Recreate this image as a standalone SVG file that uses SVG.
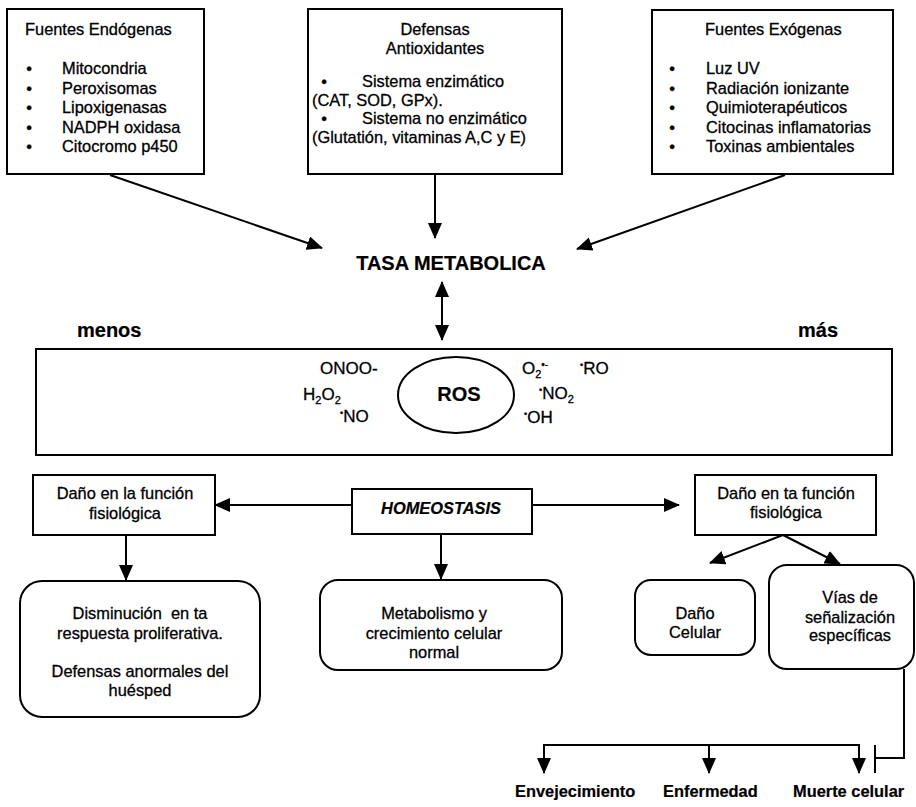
<svg xmlns="http://www.w3.org/2000/svg" width="916" height="807" viewBox="0 0 916 807">
<style>
  .box { fill: #fff; stroke: #000; stroke-width: 2; }
  .t { font-family: "Liberation Sans", Arial, sans-serif; font-size: 16.4px; fill: #000; stroke: #000; stroke-width: 0.3px; }
  .m { text-anchor: middle; }
  .b { font-weight: bold; stroke-width: 0.2px; }
  .big { font-size: 20px; }
  .chem { font-size: 17px; }
  .ln { stroke: #000; stroke-width: 2; fill: none; }
  .arr { marker-end: url(#ah); }
  .arr2 { marker-start: url(#ah); marker-end: url(#ah); }
</style>
<defs>
  <marker id="ah" markerUnits="userSpaceOnUse" markerWidth="16" markerHeight="14" refX="15" refY="7" orient="auto-start-reverse">
    <path d="M0,0 L16,7 L0,14 z" fill="#000"/>
  </marker>
</defs>
<rect width="916" height="807" fill="#fff"/>

<g id="endogenas">
  <rect class="box" x="7" y="9" width="197" height="165"/>
  <text class="t" x="25" y="35">Fuentes Endógenas</text>
  <text class="t m" x="29" y="74">•</text><text class="t" x="62" y="74">Mitocondria</text>
  <text class="t m" x="29" y="94">•</text><text class="t" x="62" y="94">Peroxisomas</text>
  <text class="t m" x="29" y="113">•</text><text class="t" x="62" y="113">Lipoxigenasas</text>
  <text class="t m" x="29" y="133">•</text><text class="t" x="62" y="133">NADPH oxidasa</text>
  <text class="t m" x="29" y="152">•</text><text class="t" x="62" y="152">Citocromo p450</text>
</g>

<g id="defensas">
  <rect class="box" x="308" y="9" width="254" height="165"/>
  <text class="t m" x="435" y="35">Defensas</text>
  <text class="t m" x="435" y="54">Antioxidantes</text>
  <text class="t m" x="324" y="87">•</text><text class="t" x="362" y="87">Sistema enzimático</text>
  <text class="t" x="312" y="106">(CAT, SOD, GPx).</text>
  <text class="t m" x="324" y="124">•</text><text class="t" x="362" y="124">Sistema no enzimático</text>
  <text class="t" x="312" y="143">(Glutatión, vitaminas A,C y E)</text>
</g>

<g id="exogenas">
  <rect class="box" x="652" y="10" width="241" height="164"/>
  <text class="t" x="705" y="35">Fuentes Exógenas</text>
  <text class="t m" x="672" y="74">•</text><text class="t" x="706" y="74">Luz UV</text>
  <text class="t m" x="672" y="94">•</text><text class="t" x="706" y="94">Radiación ionizante</text>
  <text class="t m" x="672" y="113">•</text><text class="t" x="706" y="113">Quimioterapéuticos</text>
  <text class="t m" x="672" y="133">•</text><text class="t" x="706" y="133">Citocinas inflamatorias</text>
  <text class="t m" x="672" y="152">•</text><text class="t" x="706" y="152">Toxinas ambientales</text>
</g>

<g id="tasa">
  <text class="t b big m" x="451" y="270">TASA METABOLICA</text>
</g>

<g id="menos"><text class="t b big" x="77" y="337">menos</text></g>
<g id="mas"><text class="t b big" x="798" y="337">más</text></g>

<g id="ros">
  <rect class="box" x="36" y="349" width="856" height="106"/>
  <ellipse cx="456" cy="395" rx="58" ry="38" fill="none" stroke="#000" stroke-width="2"/>
  <text class="t b big m" x="459" y="401">ROS</text>
  <text class="t chem" x="320" y="374">ONOO-</text>
  <text class="t chem" x="303" y="400">H<tspan font-size="11" baseline-shift="-4">2</tspan>O<tspan font-size="11" baseline-shift="-4">2</tspan></text>
  <text class="t chem" x="340" y="422"><tspan font-size="9" baseline-shift="6">•</tspan>NO</text>
  <text class="t chem" x="522" y="374">O<tspan font-size="11" baseline-shift="-4">2</tspan><tspan font-size="10" baseline-shift="6">•-</tspan></text>
  <text class="t chem" x="580" y="374"><tspan font-size="9" baseline-shift="6">•</tspan>RO</text>
  <text class="t chem" x="539" y="399"><tspan font-size="9" baseline-shift="6">•</tspan>NO<tspan font-size="11" baseline-shift="-4">2</tspan></text>
  <text class="t chem" x="524" y="423"><tspan font-size="9" baseline-shift="6">•</tspan>OH</text>
</g>

<g id="dano-izq">
  <rect class="box" x="33" y="475" width="182" height="60"/>
  <text class="t m" x="125" y="499">Daño en la función</text>
  <text class="t m" x="125" y="519">fisiológica</text>
</g>

<g id="homeostasis">
  <rect class="box" x="352" y="489" width="180" height="45"/>
  <text class="t b m" x="441" y="514" font-style="italic">HOMEOSTASIS</text>
</g>

<g id="dano-der">
  <rect class="box" x="695" y="475" width="181" height="60"/>
  <text class="t m" x="786" y="499">Daño en ta función</text>
  <text class="t m" x="786" y="518">fisiológica</text>
</g>

<g id="disminucion">
  <rect class="box" x="20" y="581" width="240" height="136" rx="22"/>
  <text class="t m" x="140" y="619" xml:space="preserve">Disminución  en ta</text>
  <text class="t m" x="140" y="639">respuesta proliferativa.</text>
  <text class="t m" x="140" y="677">Defensas anormales del</text>
  <text class="t m" x="140" y="696">huésped</text>
</g>

<g id="metabolismo">
  <rect class="box" x="320" y="580" width="242" height="90" rx="18"/>
  <text class="t m" x="434" y="619">Metabolismo y</text>
  <text class="t m" x="434" y="639">crecimiento celular</text>
  <text class="t m" x="434" y="658">normal</text>
</g>

<g id="dano-celular">
  <rect class="box" x="635" y="580" width="120" height="75" rx="16"/>
  <text class="t m" x="695" y="619">Daño</text>
  <text class="t m" x="695" y="638">Celular</text>
</g>

<g id="vias">
  <rect class="box" x="769" y="565" width="145" height="104" rx="18"/>
  <text class="t m" x="850" y="603">Vías de</text>
  <text class="t m" x="850" y="623">señalización</text>
  <text class="t m" x="850" y="641">específicas</text>
</g>

<g id="envejecimiento"><text class="t b" x="515" y="797">Envejecimiento</text></g>
<g id="enfermedad"><text class="t b" x="663" y="797">Enfermedad</text></g>
<g id="muerte"><text class="t b" x="793" y="797">Muerte celular</text></g>

<g id="connectors">
  <line class="ln arr" x1="110" y1="175" x2="322" y2="248"/>
  <line class="ln arr" x1="435" y1="174" x2="435" y2="238"/>
  <line class="ln arr" x1="785" y1="175" x2="577" y2="249"/>
  <line class="ln arr2" x1="442" y1="282" x2="442" y2="340"/>
  <line class="ln arr" x1="352" y1="505" x2="215" y2="505"/>
  <line class="ln arr" x1="441" y1="534" x2="441" y2="579"/>
  <line class="ln arr" x1="532" y1="505" x2="679" y2="505"/>
  <line class="ln arr" x1="126" y1="535" x2="126" y2="580"/>
  <line class="ln arr" x1="783" y1="535" x2="710" y2="563"/>
  <line class="ln arr" x1="783" y1="535" x2="840" y2="564"/>
  <polyline class="ln" points="904,669 904,758 875,758"/>
  <line class="ln" x1="875" y1="745" x2="875" y2="773"/>
  <line class="ln" x1="544" y1="745" x2="859" y2="745"/>
  <line class="ln arr" x1="544" y1="744" x2="544" y2="773"/>
  <line class="ln arr" x1="709" y1="744" x2="709" y2="773"/>
  <line class="ln arr" x1="859" y1="744" x2="859" y2="773"/>
</g>
</svg>
